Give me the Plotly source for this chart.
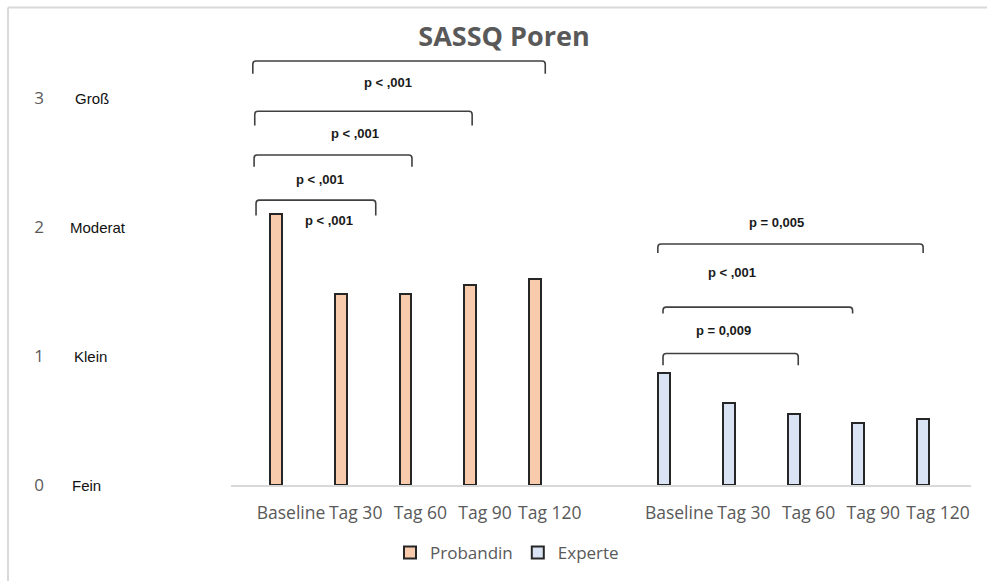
import plotly.graph_objects as go

# Category labels and mean scores (0 = Fein ... 3 = Groß)
timepoints = ["Baseline", "Tag 30", "Tag 60", "Tag 90", "Tag 120"]
probandin_scores = [2.10, 1.48, 1.48, 1.55, 1.60]
experte_scores = [0.87, 0.64, 0.55, 0.48, 0.51]

# Category slots on the x axis (slot 5 is left empty between the groups)
probandin_slots = [0, 1, 2, 3, 4]
experte_slots = [6, 7, 8, 9, 10]

# Y scale ticks and the verbal anchors of the scale
scale_values = [0, 1, 2, 3]
scale_ticks = ["0", "1", "2", "3"]
scale_words = ["Fein", "Klein", "Moderat", "Groß"]

# Significance brackets: (x start, x end, y top, y leg end, label, label x, label y)
brackets = [
    (-0.59, 3.93, 3.29, 3.19, "p < ,001", 1.50, 3.12),
    (-0.56, 2.80, 2.90, 2.79, "p < ,001", 0.99, 2.73),
    (-0.57, 1.87, 2.56, 2.47, "p < ,001", 0.45, 2.37),
    (-0.54, 1.31, 2.21, 2.09, "p < ,001", 0.59, 2.05),
    (5.67, 9.77, 1.87, 1.80, "p = 0,005", 7.51, 2.04),
    (5.75, 8.68, 1.38, 1.33, "p < ,001", 6.81, 1.65),
    (5.75, 7.84, 1.02, 0.93, "p = 0,009", 6.68, 1.20),
]

# Styling
BAR_WIDTH = 0.185
BAR_SHIFT = -0.23
ORANGE = "#F8CBAD"
BLUE = "#DAE3F3"
OUTLINE = "#262626"
GREY_TEXT = "#595959"
FRAME = "#D9D9D9"

W, H = 987, 581
M_L, M_R, M_T, M_B = 231, 16, 20.6, 96
PLOT_W = W - M_L - M_R
PLOT_H = H - M_T - M_B


def px_to_paper_x(px):
    return (px - M_L) / PLOT_W


def px_to_paper_y(py):
    return (H - M_B - py) / PLOT_H


fig = go.Figure()

for name, slots, values, color in [
    ("Probandin", probandin_slots, probandin_scores, ORANGE),
    ("Experte", experte_slots, experte_scores, BLUE),
]:
    fig.add_trace(go.Bar(
        name=name,
        x=slots,
        y=values,
        width=BAR_WIDTH,
        offset=BAR_SHIFT - BAR_WIDTH / 2,
        marker=dict(color=color, line=dict(color=OUTLINE, width=2)),
        hoverinfo="x+y",
    ))

# Brackets with rounded corners plus their p-value labels
rx, ry = 0.05, 0.025
for x0, x1, yt, yb, label, lx, ly in brackets:
    path = (
        f"M {x0},{yb} L {x0},{yt - ry} Q {x0},{yt} {x0 + rx},{yt} "
        f"L {x1 - rx},{yt} Q {x1},{yt} {x1},{yt - ry} L {x1},{yb}"
    )
    fig.add_shape(type="path", path=path, xref="x", yref="y",
                  line=dict(color="#404040", width=1.6))
    fig.add_annotation(x=lx, y=ly, xref="x", yref="y", text=f"<b>{label}</b>",
                       showarrow=False, xanchor="center", yanchor="middle",
                       font=dict(family="Liberation Sans, Arial", size=13, color="#1a1a1a"))

# Verbal scale anchors next to the numeric ticks
word_left_px = [70, 72, 68, 73]
for val, word, lpx in zip(scale_values, scale_words, word_left_px):
    fig.add_annotation(x=px_to_paper_x(lpx), y=val, xref="paper", yref="y",
                       text=word, showarrow=False, xanchor="left", yanchor="middle",
                       font=dict(family="Liberation Sans, Arial", size=15, color="#111111"))

# Light frame along the top and left edges
fig.add_shape(type="line", xref="paper", yref="paper",
              x0=px_to_paper_x(8), x1=px_to_paper_x(W), y0=px_to_paper_y(7), y1=px_to_paper_y(7),
              line=dict(color=FRAME, width=2))
fig.add_shape(type="line", xref="paper", yref="paper",
              x0=px_to_paper_x(8), x1=px_to_paper_x(8), y0=px_to_paper_y(7), y1=px_to_paper_y(H + 10),
              line=dict(color=FRAME, width=2))

fig.update_layout(
    width=W,
    height=H,
    margin=dict(l=M_L, r=M_R, t=M_T, b=M_B, autoexpand=False),
    paper_bgcolor="white",
    plot_bgcolor="white",
    font=dict(family="Open Sans, Noto Sans, sans-serif", color=GREY_TEXT),
    title=dict(text="<b>SASSQ Poren</b>", x=504 / W,
               xanchor="center", y=1 - 37 / H, yanchor="middle",
               font=dict(family="Open Sans, sans-serif", size=27, color=GREY_TEXT)),
    showlegend=True,
    legend=dict(orientation="h", x=px_to_paper_x(390), xanchor="left",
                y=px_to_paper_y(553), yanchor="middle",
                font=dict(size=17, color=GREY_TEXT), bgcolor="rgba(0,0,0,0)"),
    bargap=0,
)

fig.update_xaxes(
    range=[-0.927, 10.51],
    tickmode="array",
    tickvals=probandin_slots + experte_slots,
    ticktext=timepoints + timepoints,
    tickfont=dict(size=17.5, color=GREY_TEXT),
    ticklabelstandoff=11,
    showline=True, linecolor=FRAME, linewidth=1.5,
    showgrid=False, zeroline=False, ticks="",
)
fig.update_yaxes(
    range=[0, 3.6],
    tickmode="array",
    tickvals=scale_values,
    ticktext=scale_ticks,
    tickfont=dict(size=17, color=GREY_TEXT),
    ticklabelstandoff=186,
    showline=False, showgrid=False, zeroline=False, ticks="",
)

fig.write_html("out.html")
